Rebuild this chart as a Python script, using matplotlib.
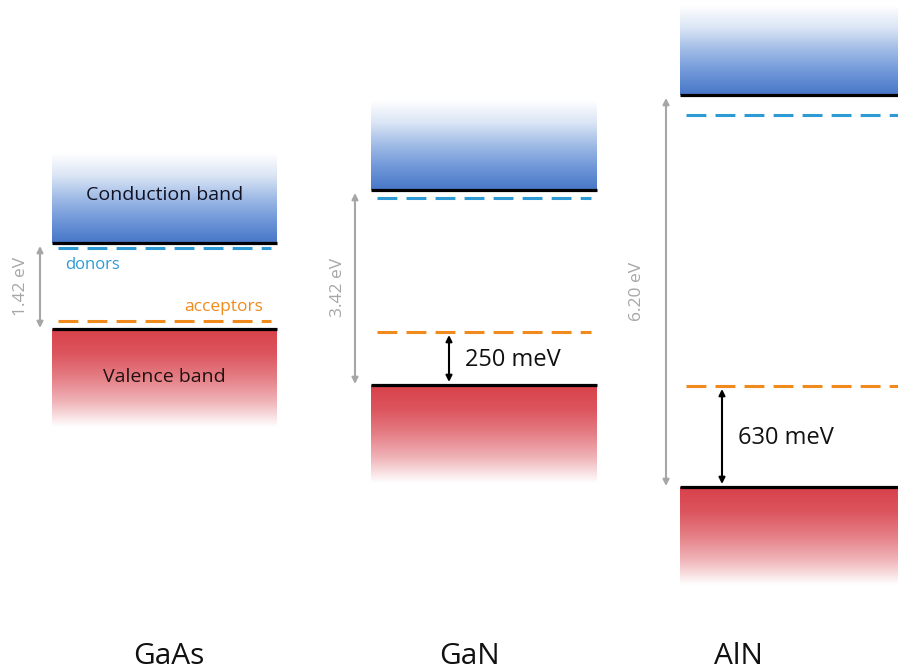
import numpy as np
import matplotlib
matplotlib.use("Agg")
import matplotlib.pyplot as plt
from matplotlib.colors import LinearSegmentedColormap

# ---- data (schematic diagram units, y grows downward) ----
materials = ["GaAs", "GaN", "AlN"]
gap_labels = ["1.42 eV", "3.42 eV", "6.20 eV"]
cb_edge = [243, 190, 95]
vb_edge = [329, 385, 487]
donor_level = [248, 198, 115]
acceptor_level = [321, 332, 386]
acceptor_labels = [None, "250 meV", "630 meV"]

# ---- layout ----
box_left = [52, 371, 680]
box_right = [277, 597, 905]
gap_arrow_x = [40, 355, 666]
gap_text_x = [21, 338, 637]
acc_arrow_x = [None, 449, 722]
name_x = [169, 469, 738]
band_depth = 90

FONT = ["Open Sans", "DejaVu Sans"]
plt.rcParams["font.family"] = FONT

fig = plt.figure(figsize=(8.98, 6.72), dpi=100)
ax = fig.add_axes([0, 0, 1, 1])
ax.set_xlim(0, 898)
ax.set_ylim(672, 0)
ax.axis("off")

blue = LinearSegmentedColormap.from_list("b", ["#ffffff", "#dbe5f5", "#9fbbe6", "#6f96d8", "#4777c8"])
red = LinearSegmentedColormap.from_list("r", ["#d8414a", "#dc555e", "#e57f86", "#f0b6ba", "#ffffff"])
grad = np.linspace(0, 1, 256).reshape(-1, 1)

for i, m in enumerate(materials):
    l, r = box_left[i], box_right[i]
    cb, vb = cb_edge[i], vb_edge[i]
    # conduction band gradient
    ax.imshow(grad, cmap=blue, aspect="auto", extent=(l, r, cb, cb - band_depth), zorder=1)
    # valence band gradient
    ax.imshow(grad, cmap=red, aspect="auto", extent=(l, r, vb + band_depth + 8, vb), zorder=1)
    ax.plot([l, r], [cb, cb], color="black", lw=2.3, zorder=3, solid_capstyle="butt")
    ax.plot([l, r], [vb, vb], color="black", lw=2.3, zorder=3, solid_capstyle="butt")
    # donor and acceptor levels
    ax.plot([l + 6, r - 6], [donor_level[i], donor_level[i]], color="#2d9ad6", lw=2.2,
            dashes=(6.5, 3.0), zorder=3)
    ax.plot([l + 6, r - 6], [acceptor_level[i], acceptor_level[i]], color="#f08a1c", lw=2.2,
            dashes=(6.5, 3.0), zorder=3)
    # band gap arrow
    ax.annotate("", xy=(gap_arrow_x[i], vb - 1), xytext=(gap_arrow_x[i], cb + 3),
                arrowprops=dict(arrowstyle="<|-|>", color="#a6a6a6", lw=1.5,
                                mutation_scale=9, shrinkA=0, shrinkB=0))
    ax.text(gap_text_x[i], (cb + vb) / 2, gap_labels[i], rotation=90, color="#a6a6a6",
            ha="center", va="center", fontsize=12.5)
    # acceptor ionisation energy
    if acceptor_labels[i]:
        ax.annotate("", xy=(acc_arrow_x[i], vb - 3), xytext=(acc_arrow_x[i], acceptor_level[i] + 3),
                    arrowprops=dict(arrowstyle="<|-|>", color="black", lw=1.5,
                                    mutation_scale=9, shrinkA=0, shrinkB=0))
        ax.text(acc_arrow_x[i] + 16, (acceptor_level[i] + vb) / 2 + 2, acceptor_labels[i],
                ha="left", va="center", fontsize=17, color="#111111")
    ax.text(name_x[i], 656, m, ha="center", va="center", fontsize=21.5, color="#111111")

l, r = box_left[0], box_right[0]
ax.text((l + r) / 2, 195, "Conduction band", ha="center", va="center", fontsize=14, color="#111122")
ax.text((l + r) / 2, 377, "Valence band", ha="center", va="center", fontsize=14, color="#221111")
ax.text(l + 13, 265, "donors", ha="left", va="center", fontsize=12, color="#2d9ad6")
ax.text(r - 14, 307, "acceptors", ha="right", va="center", fontsize=12.5, color="#f08a1c")

fig.savefig("out.png", dpi=100)
